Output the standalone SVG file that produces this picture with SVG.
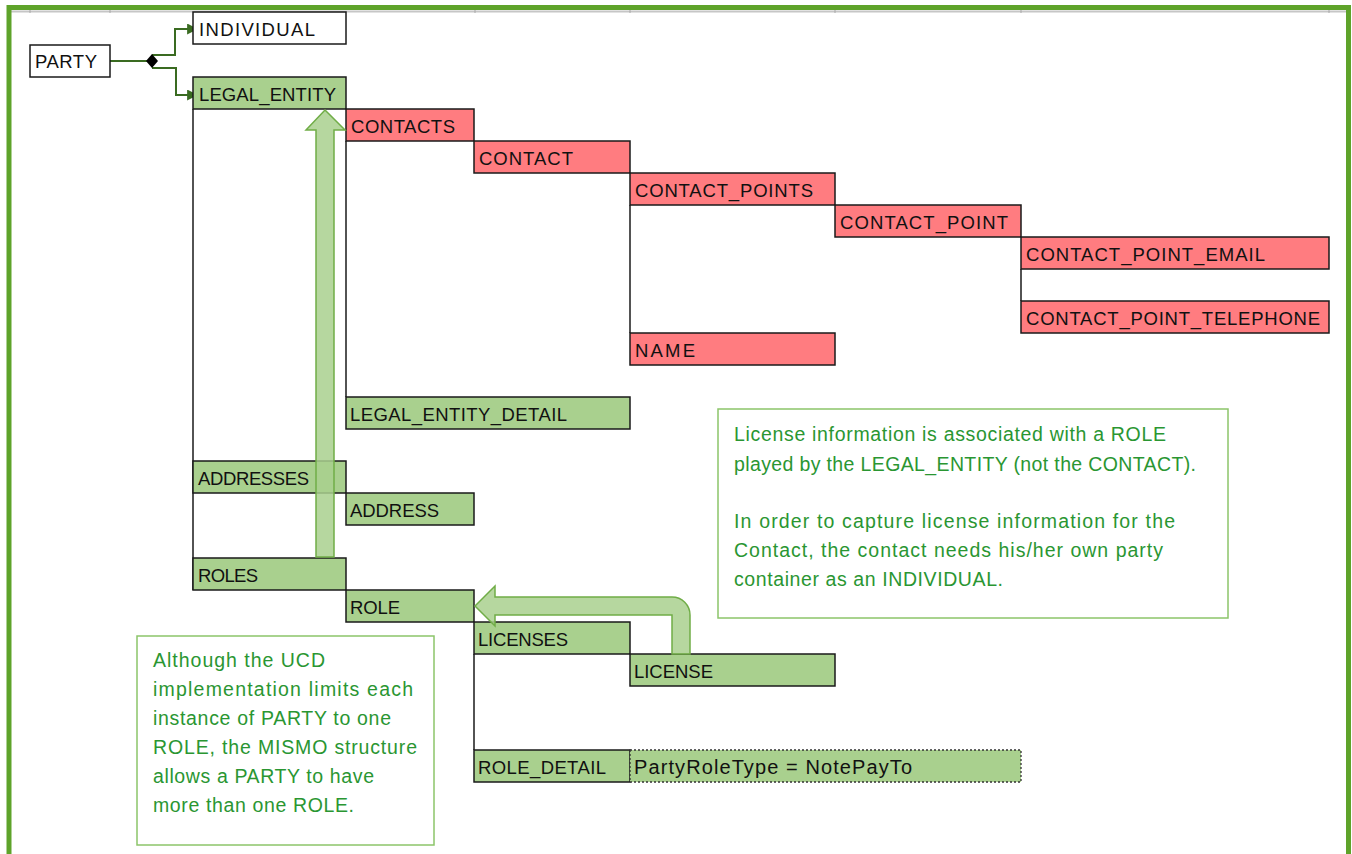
<svg xmlns="http://www.w3.org/2000/svg" width="1352" height="854" viewBox="0 0 1352 854">
  <style>
    .lbl { font-family: "Liberation Sans", Arial, sans-serif; font-size: 18.5px; fill: #111; }
    .box { stroke: #1a1a1a; stroke-width: 1.5; }
    .plain { fill: #ffffff; }
    .grn { fill: #a9d08e; }
    .red { fill: #ff7c80; }
    .tree { stroke: #1a1a1a; stroke-width: 1.5; fill: none; }
    .link { stroke: #3a6b21; stroke-width: 2; fill: none; }
    .note { fill: #ffffff; stroke: #8cc56a; stroke-width: 1.5; }
    .ntxt { font-family: "Liberation Sans", Arial, sans-serif; font-size: 19.5px; fill: #2a9632; }
    .bigarrow { fill: #a9d08e; fill-opacity: 0.85; stroke: #70ad47; stroke-width: 1.5; }
  </style>
  <defs>
    <marker id="arr" viewBox="0 0 10 10" refX="9" refY="5" markerWidth="11" markerHeight="11" orient="auto" markerUnits="userSpaceOnUse">
      <path d="M0,0 L10,5 L0,10 Z" fill="#3a6b21"/>
    </marker>
  </defs>

  <rect width="1352" height="854" fill="#ffffff"/>

  <!-- sheet frame and column header line -->
  <g id="frame">
    <line x1="11" y1="11.5" x2="1346" y2="11.5" stroke="#c6c6c6" stroke-width="2"/>
    <g stroke="#a8a8a8" stroke-width="1">
      <line x1="30" y1="9" x2="30" y2="13"/>
      <line x1="110" y1="9" x2="110" y2="13"/>
      <line x1="475" y1="9" x2="475" y2="13"/>
      <line x1="630" y1="9" x2="630" y2="13"/>
      <line x1="835" y1="9" x2="835" y2="13"/>
      <line x1="1021" y1="9" x2="1021" y2="13"/>
      <line x1="1329" y1="9" x2="1329" y2="13"/>
    </g>
    <path d="M9,860 V7.5 H1348.5 V860" fill="none" stroke="#5ea32a" stroke-width="5"/>
  </g>

  <!-- tree lines and the PARTY choice connector -->
  <g id="connectors">
    <line class="tree" x1="193" y1="109" x2="193" y2="590"/>
    <line class="tree" x1="346" y1="141" x2="346" y2="397"/>
    <line class="tree" x1="630" y1="205" x2="630" y2="333"/>
    <line class="tree" x1="1021" y1="269" x2="1021" y2="301"/>
    <line class="tree" x1="474" y1="654" x2="474" y2="750"/>
    <line class="link" x1="110" y1="61" x2="147" y2="61"/>
    <polyline class="link" points="152,55 175,55 175,29 197,29" marker-end="url(#arr)"/>
    <polyline class="link" points="152,68 176,68 176,95 197,95" marker-end="url(#arr)"/>
    <path d="M152,54 L158,61 L152,68 L146,61 Z" fill="#000"/>
  </g>

  <g id="party"><rect class="box plain" x="30" y="45" width="80" height="32"/><text class="lbl" x="35" y="68" textLength="62">PARTY</text></g>
  <g id="individual"><rect class="box plain" x="193" y="12" width="153" height="32"/><text class="lbl" x="199" y="36" textLength="116">INDIVIDUAL</text></g>
  <g id="legal_entity"><rect class="box grn" x="193" y="77" width="153" height="32"/><text class="lbl" x="199" y="101" textLength="137">LEGAL_ENTITY</text></g>
  <g id="contacts"><rect class="box red" x="346" y="109" width="128" height="32"/><text class="lbl" x="351" y="133" textLength="104">CONTACTS</text></g>
  <g id="contact"><rect class="box red" x="474" y="141" width="156" height="32"/><text class="lbl" x="479" y="165" textLength="94">CONTACT</text></g>
  <g id="contact_points"><rect class="box red" x="630" y="173" width="205" height="32"/><text class="lbl" x="635" y="197" textLength="178">CONTACT_POINTS</text></g>
  <g id="contact_point"><rect class="box red" x="835" y="205" width="186" height="32"/><text class="lbl" x="840" y="229" textLength="168">CONTACT_POINT</text></g>
  <g id="contact_point_email"><rect class="box red" x="1021" y="237" width="308" height="32"/><text class="lbl" x="1026" y="261" textLength="239">CONTACT_POINT_EMAIL</text></g>
  <g id="contact_point_telephone"><rect class="box red" x="1021" y="301" width="308" height="32"/><text class="lbl" x="1026" y="325" textLength="294">CONTACT_POINT_TELEPHONE</text></g>
  <g id="name"><rect class="box red" x="630" y="333" width="205" height="32"/><text class="lbl" x="635" y="357" textLength="60">NAME</text></g>
  <g id="legal_entity_detail"><rect class="box grn" x="346" y="397" width="284" height="32"/><text class="lbl" x="350" y="421" textLength="217">LEGAL_ENTITY_DETAIL</text></g>
  <g id="addresses"><rect class="box grn" x="193" y="461" width="153" height="32"/><text class="lbl" x="198" y="485" textLength="111">ADDRESSES</text></g>
  <g id="address"><rect class="box grn" x="346" y="493" width="128" height="32"/><text class="lbl" x="350" y="517" textLength="89">ADDRESS</text></g>
  <g id="roles"><rect class="box grn" x="193" y="558" width="153" height="32"/><text class="lbl" x="198" y="582" textLength="60">ROLES</text></g>
  <g id="role"><rect class="box grn" x="346" y="590" width="128" height="32"/><text class="lbl" x="350" y="614" textLength="50">ROLE</text></g>
  <g id="licenses"><rect class="box grn" x="474" y="622" width="156" height="32"/><text class="lbl" x="478" y="646" textLength="90">LICENSES</text></g>
  <g id="license"><rect class="box grn" x="630" y="654" width="205" height="32"/><text class="lbl" x="634" y="678" textLength="79">LICENSE</text></g>
  <g id="role_detail"><rect class="box grn" x="474" y="750" width="156" height="32"/><text class="lbl" x="478" y="774" textLength="128">ROLE_DETAIL</text></g>
  <g id="party_role_type"><rect class="grn" x="630" y="750" width="391" height="32" stroke="#333" stroke-width="1.3" stroke-dasharray="2 2"/><text class="lbl" x="634" y="774" style="font-size:20px" textLength="278">PartyRoleType = NotePayTo</text></g>

  <!-- block arrows -->
  <g id="arrow_roles_to_legal_entity">
    <path class="bigarrow" d="M325,110 L345,130 L334,130 L334,557 L316,557 L316,130 L306,130 Z"/>
  </g>
  <g id="arrow_license_to_role">
    <path class="bigarrow" d="M475,606 L495,586 L495,597 L672,597 A18,18 0 0 1 690,615 L690,654 L672,654 L672,615 L495,615 L495,626 Z"/>
  </g>

  <g id="note_license">
    <rect class="note" x="718" y="409" width="510" height="209"/>
    <text class="ntxt" x="734" y="441" textLength="432">License information is associated with a ROLE</text>
    <text class="ntxt" x="734" y="471" textLength="462">played by the LEGAL_ENTITY (not the CONTACT).</text>
    <text class="ntxt" x="734" y="528" textLength="441">In order to capture license information for the</text>
    <text class="ntxt" x="734" y="557" textLength="429">Contact, the contact needs his/her own party</text>
    <text class="ntxt" x="734" y="586" textLength="269">container as an INDIVIDUAL.</text>
  </g>

  <g id="note_roles">
    <rect class="note" x="137" y="636" width="297" height="209"/>
    <text class="ntxt" x="153" y="667" textLength="172">Although the UCD</text>
    <text class="ntxt" x="153" y="696" textLength="260">implementation limits each</text>
    <text class="ntxt" x="153" y="725" textLength="238">instance of PARTY to one</text>
    <text class="ntxt" x="153" y="754" textLength="264">ROLE, the MISMO structure</text>
    <text class="ntxt" x="153" y="783" textLength="221">allows a PARTY to have</text>
    <text class="ntxt" x="153" y="812" textLength="201">more than one ROLE.</text>
  </g>
</svg>
